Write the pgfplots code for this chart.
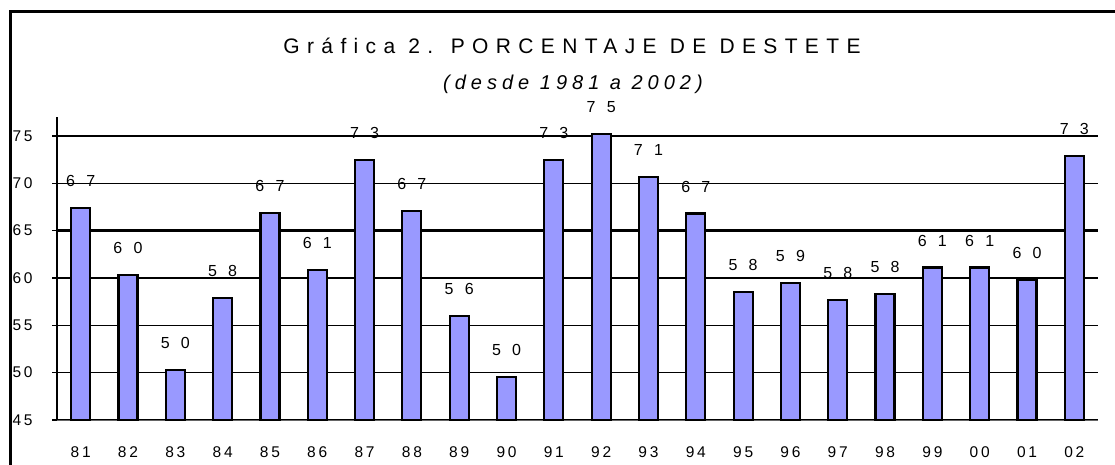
\documentclass[border=0pt]{standalone}
\usepackage{fontspec}
\setmainfont{Liberation Sans}
\newfontfamily\ttlfont[LetterSpace=35]{Liberation Sans}
\newfontfamily\ttlitfont[LetterSpace=25]{Liberation Sans Italic}
\newfontfamily\tickfont[LetterSpace=18]{Liberation Sans}
\newfontfamily\lblfont[LetterSpace=70]{Liberation Sans}
\usepackage{pgfplots}
\usepackage{pgfplotstable}
\pgfplotsset{compat=1.18}
\definecolor{barblue}{HTML}{9999FF}
\pgfplotstableread{
x y lab
0 67.4 67
1 60.3 60
2 50.3 50
3 57.9 58
4 66.9 67
5 60.8 61
6 72.5 73
7 67.1 67
8 56.0 56
9 49.5 50
10 72.5 73
11 75.2 75
12 70.7 71
13 66.8 67
14 58.5 58
15 59.5 59
16 57.7 58
17 58.3 58
18 61.1 61
19 61.1 61
20 59.8 60
21 72.9 73
}\datatable
\begin{document}
\begin{tikzpicture}
\useasboundingbox (0,0) rectangle (1115pt,464pt);
\draw[line width=3pt] (10pt,-2pt) -- (10pt,452pt) -- (1117pt,452pt);
\node[font=\fontsize{21}{21}\ttlfont] at (572pt,418pt) {Gráfica 2. PORCENTAJE DE DESTETE};
\node[font=\fontsize{20}{20}\ttlitfont] at (573pt,380pt) {(desde 1981 a 2002)};
\begin{axis}[
  at={(57pt,44pt)}, anchor=south west,
  width=1041pt, height=303pt, scale only axis,
  xmin=-0.5, xmax=21.5, ymin=45, ymax=77,
  ybar, bar width=19pt,
  axis lines*=left,
  axis line style={-},
  x axis line style={draw=gray!80!black, line width=1pt},
  y axis line style={draw=black, line width=1.5pt},
  ytick={45,50,55,60,70,75},
  extra y ticks={65},
  extra y tick style={grid style={black, line width=2.5pt}},
  ymajorgrids,
  grid style={black, line width=1.2pt},
  tick align=outside, major tick length=5pt,
  ytick style={black, line width=1.2pt},
  xtick={0,...,21},
  xticklabels={81,82,83,84,85,86,87,88,89,90,91,92,93,94,95,96,97,98,99,00,01,02},
  xtick style={draw=none},
  /pgf/number format/assume math mode=true,
  yticklabel style={font=\fontsize{15.5}{15.5}\tickfont, anchor=west, xshift=-43pt},
  xticklabel style={font=\fontsize{15.5}{15.5}\tickfont, yshift=-18pt},
  point meta=explicit symbolic,
  nodes near coords={\pgfplotspointmeta},
  every node near coord/.append style={font=\fontsize{16}{16}\lblfont, anchor=center, yshift=27pt},
]
\addplot[fill=barblue, draw=black, line width=2.2pt] table[x=x, y=y, meta=lab] {\datatable};
\end{axis}
\end{tikzpicture}
\end{document}
